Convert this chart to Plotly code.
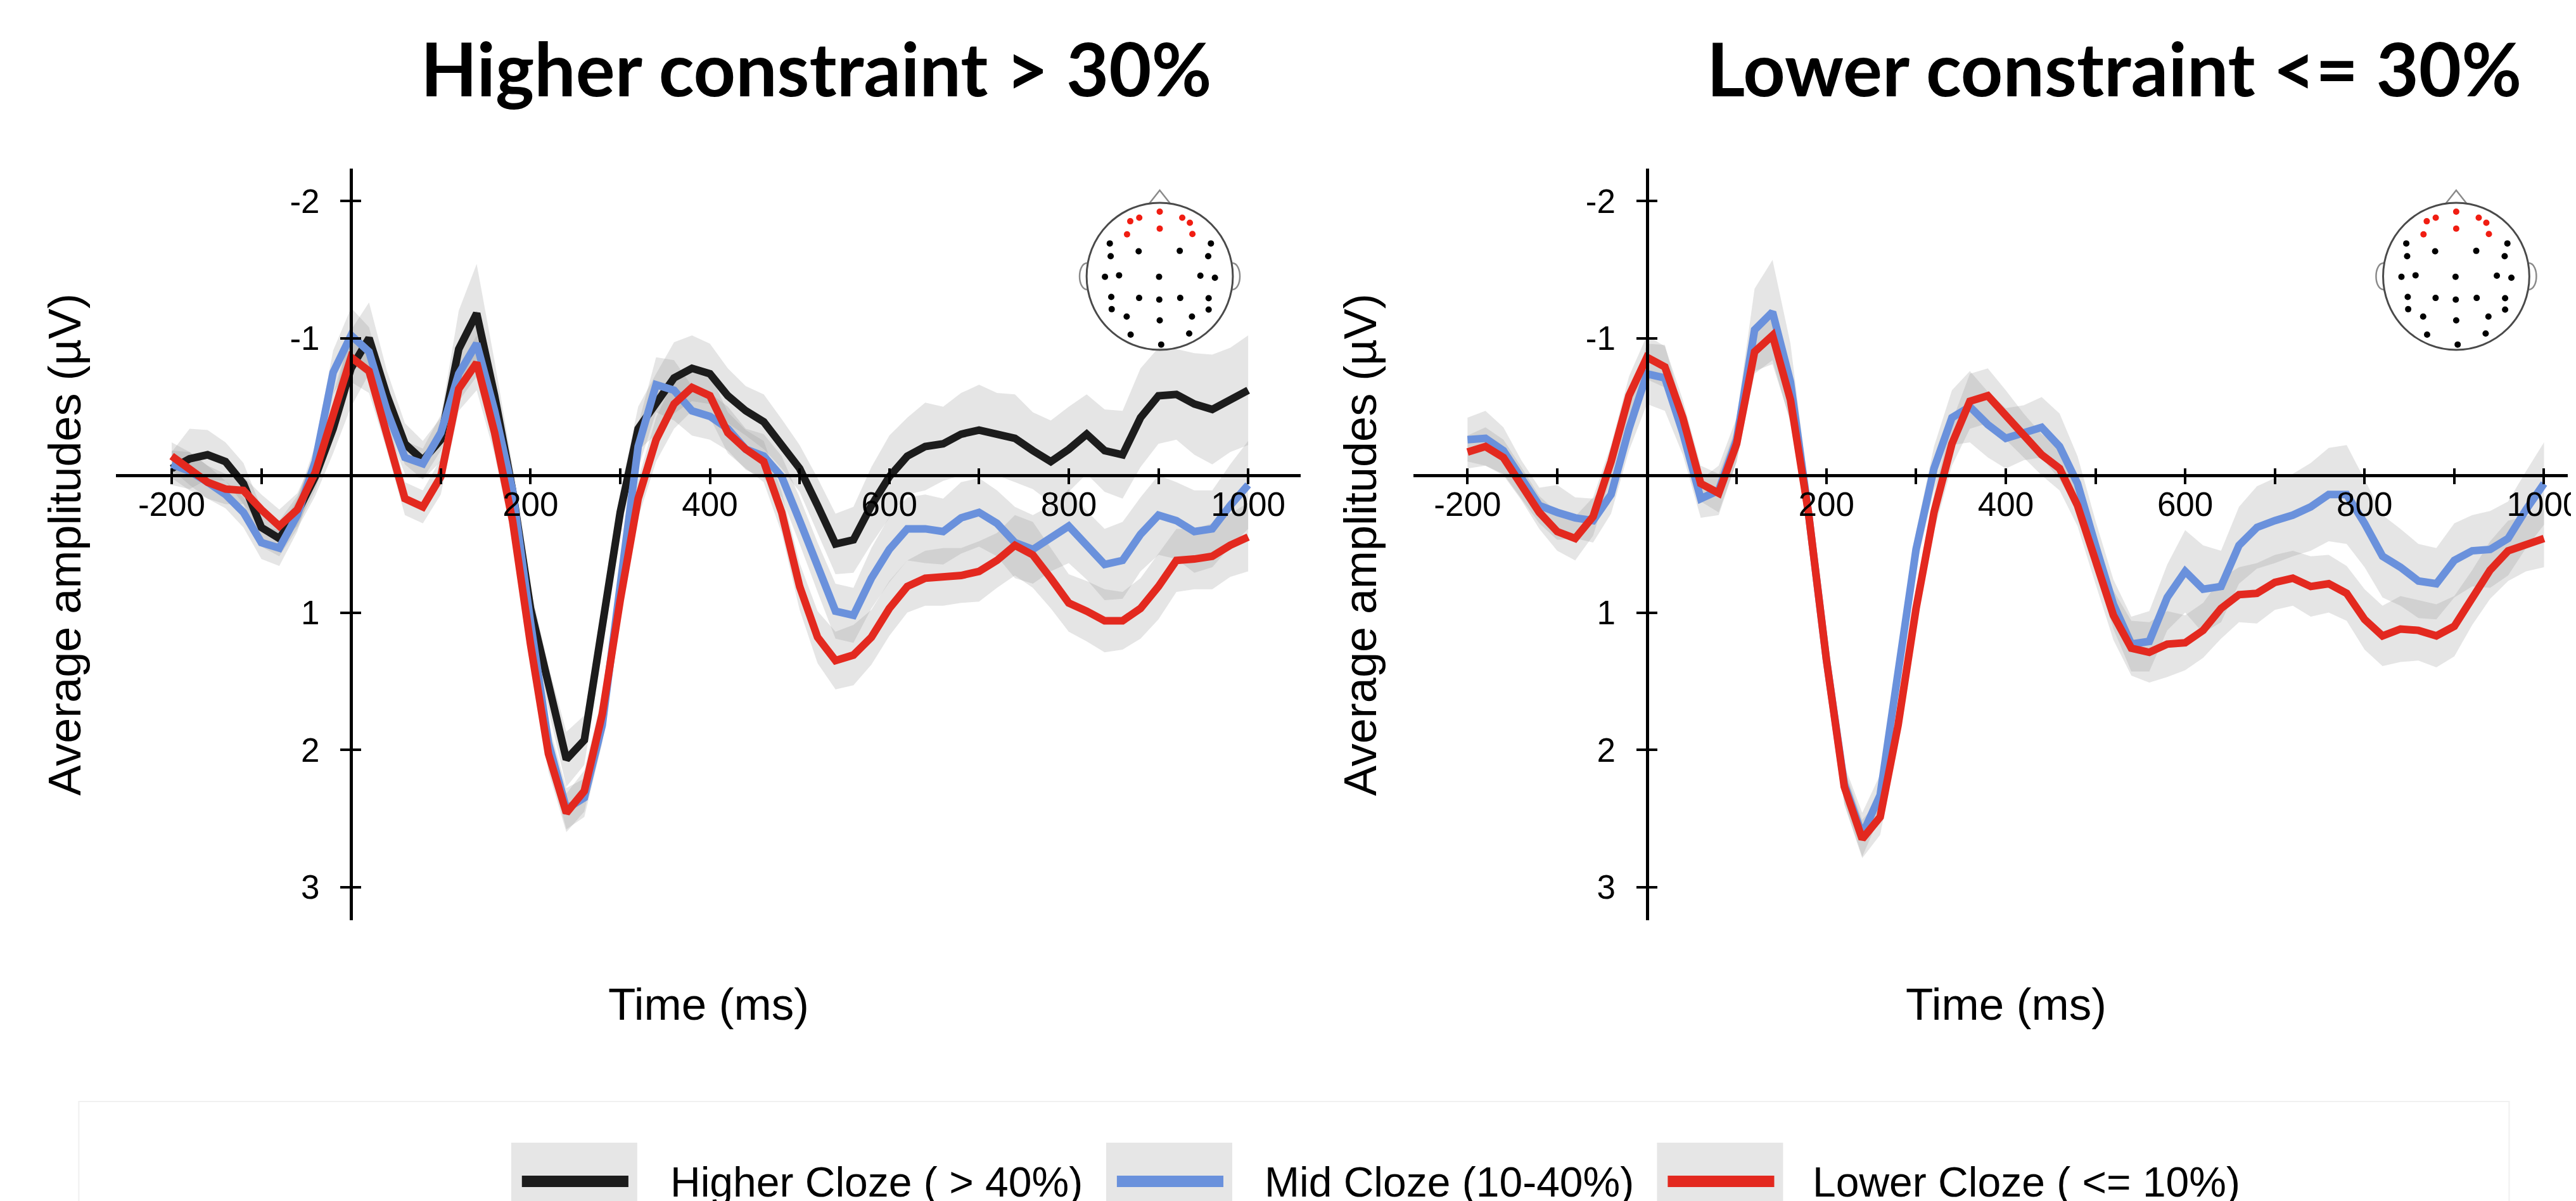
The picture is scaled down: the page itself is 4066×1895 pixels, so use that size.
import plotly.graph_objects as go

# ---------------- data ----------------
TIME_MS = list(range(-200, 1001, 20))

SERIES_NAMES = ["Higher Cloze ( > 40%)", "Mid Cloze (10-40%)", "Lower Cloze ( <= 10%)"]
SERIES_COLORS = ["#1c1c1c", "#6a91dc", "#e3291f"]

PANEL_TITLES = ["Higher constraint > 30%", "Lower constraint <= 30%"]

# Higher-constraint panel
HC_HIGHER = [-0.05, -0.12, -0.15, -0.10, 0.06, 0.38, 0.46, 0.27, 0.01, -0.34,
             -0.78, -1.00, -0.58, -0.23, -0.11, -0.26, -0.92, -1.18, -0.58, 0.11,
             0.97, 1.55, 2.07, 1.93, 1.13, 0.27, -0.34, -0.52, -0.71, -0.78,
             -0.74, -0.58, -0.47, -0.39, -0.23, -0.05, 0.22, 0.50, 0.47, 0.22,
             0.01, -0.14, -0.21, -0.23, -0.30, -0.33, -0.30, -0.27, -0.18, -0.10,
             -0.19, -0.30, -0.18, -0.15, -0.42, -0.58, -0.59, -0.52, -0.48, -0.55,
             -0.62]
HC_MID = [-0.08, -0.03, 0.05, 0.14, 0.27, 0.49, 0.53, 0.29, -0.10, -0.75,
          -1.02, -0.90, -0.47, -0.13, -0.085, -0.31, -0.74, -0.96, -0.47, 0.11,
          1.07, 1.95, 2.43, 2.35, 1.82, 0.75, -0.21, -0.66, -0.62, -0.47,
          -0.43, -0.34, -0.19, -0.14, 0.01, 0.33, 0.67, 0.99, 1.02, 0.75,
          0.54, 0.39, 0.39, 0.41, 0.31, 0.27, 0.35, 0.49, 0.54, 0.46,
          0.37, 0.51, 0.65, 0.62, 0.43, 0.29, 0.33, 0.41, 0.39, 0.22,
          0.07]
HC_LOWER = [-0.14, -0.05, 0.05, 0.10, 0.11, 0.25, 0.37, 0.25, -0.02, -0.44,
            -0.86, -0.76, -0.31, 0.17, 0.23, 0.01, -0.63, -0.82, -0.31, 0.33,
            1.23, 2.03, 2.46, 2.30, 1.74, 0.91, 0.17, -0.26, -0.52, -0.64,
            -0.58, -0.31, -0.19, -0.10, 0.27, 0.81, 1.18, 1.35, 1.31, 1.18,
            0.97, 0.81, 0.75, 0.74, 0.73, 0.70, 0.62, 0.51, 0.58, 0.75,
            0.93, 0.99, 1.06, 1.06, 0.97, 0.81, 0.62, 0.61, 0.59, 0.51,
            0.45]
HC_HIGHER_SE = [0.12, 0.22, 0.18, 0.14, 0.15, 0.14, 0.13, 0.12, 0.14, 0.18,
                0.28, 0.26, 0.18, 0.15, 0.14, 0.16, 0.28, 0.36, 0.25, 0.18,
                0.15, 0.16, 0.20, 0.18, 0.15, 0.14, 0.16, 0.22, 0.26, 0.24,
                0.22, 0.20, 0.18, 0.20, 0.18, 0.17, 0.20, 0.22, 0.24, 0.28,
                0.30, 0.28, 0.32, 0.27, 0.30, 0.33, 0.30, 0.32, 0.28, 0.30,
                0.31, 0.29, 0.30, 0.32, 0.36, 0.35, 0.33, 0.37, 0.40, 0.38,
                0.40]
HC_MID_SE = [0.10, 0.14, 0.12, 0.10, 0.11, 0.12, 0.13, 0.12, 0.12, 0.16,
             0.20, 0.18, 0.13, 0.12, 0.11, 0.13, 0.20, 0.24, 0.18, 0.14,
             0.13, 0.14, 0.15, 0.14, 0.13, 0.13, 0.16, 0.20, 0.22, 0.18,
             0.17, 0.16, 0.15, 0.16, 0.15, 0.17, 0.18, 0.20, 0.20, 0.22,
             0.24, 0.23, 0.25, 0.24, 0.26, 0.25, 0.24, 0.26, 0.25, 0.24,
             0.27, 0.25, 0.26, 0.28, 0.27, 0.29, 0.28, 0.30, 0.28, 0.30,
             0.32]
HC_LOWER_SE = [0.10, 0.12, 0.12, 0.11, 0.10, 0.11, 0.12, 0.12, 0.13, 0.15,
               0.18, 0.16, 0.13, 0.12, 0.12, 0.13, 0.16, 0.20, 0.16, 0.14,
               0.13, 0.13, 0.14, 0.15, 0.13, 0.12, 0.14, 0.16, 0.18, 0.17,
               0.16, 0.15, 0.14, 0.15, 0.15, 0.17, 0.19, 0.21, 0.22, 0.20,
               0.20, 0.19, 0.20, 0.21, 0.20, 0.22, 0.20, 0.22, 0.24, 0.22,
               0.21, 0.22, 0.23, 0.21, 0.22, 0.24, 0.23, 0.22, 0.24, 0.23,
               0.25]

# Lower-constraint panel (no Higher Cloze series)
LC_MID = [-0.26, -0.27, -0.18, 0.03, 0.22, 0.27, 0.31, 0.33, 0.14, -0.34,
          -0.74, -0.71, -0.31, 0.17, 0.11, -0.26, -1.06, -1.19, -0.68, 0.27,
          1.34, 2.25, 2.62, 2.33, 1.47, 0.54, -0.05, -0.42, -0.50, -0.37,
          -0.27, -0.31, -0.35, -0.21, 0.06, 0.51, 0.94, 1.23, 1.21, 0.89,
          0.70, 0.83, 0.81, 0.51, 0.38, 0.33, 0.29, 0.23, 0.14, 0.14,
          0.35, 0.59, 0.67, 0.77, 0.79, 0.62, 0.55, 0.54, 0.46, 0.25,
          0.06]
LC_LOWER = [-0.17, -0.21, -0.13, 0.06, 0.27, 0.41, 0.46, 0.30, -0.10, -0.58,
            -0.86, -0.79, -0.42, 0.06, 0.13, -0.23, -0.90, -1.02, -0.55, 0.27,
            1.34, 2.27, 2.65, 2.49, 1.82, 0.97, 0.27, -0.23, -0.54, -0.58,
            -0.44, -0.29, -0.15, -0.05, 0.22, 0.62, 1.02, 1.26, 1.29, 1.23,
            1.22, 1.13, 0.97, 0.87, 0.86, 0.78, 0.75, 0.81, 0.79, 0.86,
            1.05, 1.17, 1.12, 1.13, 1.17, 1.10, 0.89, 0.69, 0.55, 0.50,
            0.46]
LC_MID_SE = [0.16, 0.20, 0.17, 0.14, 0.13, 0.20, 0.15, 0.16, 0.14, 0.16,
             0.22, 0.24, 0.16, 0.14, 0.18, 0.16, 0.30, 0.38, 0.28, 0.18,
             0.15, 0.14, 0.16, 0.15, 0.14, 0.13, 0.16, 0.20, 0.26, 0.24,
             0.22, 0.20, 0.22, 0.24, 0.20, 0.18, 0.18, 0.20, 0.22, 0.24,
             0.30, 0.32, 0.26, 0.28, 0.30, 0.31, 0.30, 0.32, 0.34, 0.36,
             0.32, 0.30, 0.28, 0.27, 0.26, 0.27, 0.26, 0.28, 0.27, 0.28,
             0.30]
LC_LOWER_SE = [0.12, 0.14, 0.13, 0.12, 0.12, 0.14, 0.16, 0.14, 0.12, 0.14,
               0.16, 0.15, 0.13, 0.13, 0.14, 0.13, 0.16, 0.18, 0.17, 0.14,
               0.13, 0.13, 0.14, 0.13, 0.13, 0.12, 0.14, 0.16, 0.20, 0.20,
               0.18, 0.16, 0.15, 0.16, 0.15, 0.17, 0.18, 0.20, 0.22, 0.24,
               0.20, 0.20, 0.22, 0.20, 0.22, 0.20, 0.20, 0.22, 0.21, 0.20,
               0.22, 0.22, 0.24, 0.22, 0.23, 0.22, 0.20, 0.21, 0.22, 0.20,
               0.21]

X_TICK_VALUES = list(range(-200, 1001, 100))
X_TICK_LABELS = ["-200", "", "", "", "200", "", "400", "", "600", "", "800", "", "1000"]
Y_TICK_VALUES = [-2, -1, 1, 2, 3]
Y_TICK_LABELS = ["-2", "-1", "1", "2", "3"]

# electrode montage (unit head radius); ROI electrodes in red
ROI_X = [0.0, -0.280, -0.403, -0.447, 0.0, 0.308, 0.412, 0.447]
ROI_Y = [0.879, 0.798, 0.749, 0.571, 0.648, 0.798, 0.729, 0.576]
OTHER_X = [-0.683, -0.288, 0.274, 0.700, -0.671, 0.663, -0.749, -0.556, -0.009, 0.556,
           0.755, -0.663, -0.282, -0.006, 0.280, 0.669, -0.657, 0.669, -0.452, 0.0,
           0.441, -0.398, 0.403, 0.020]
OTHER_Y = [0.447, 0.340, 0.346, 0.447, 0.274, 0.274, -0.006, 0.014, -0.006, 0.009,
           -0.020, -0.280, -0.294, -0.317, -0.294, -0.297, -0.447, -0.452, -0.548, -0.599,
           -0.548, -0.793, -0.778, -0.928]

# ---------------- layout geometry (pixels of the 4066x1895 page) ----------------
W, H = 4066, 1895
PX_PER_MS = 1.4233
PX_PER_UV = 216.5
Y_TOP_PX, Y_BOT_PX, Y_ZERO_PX = 258, 1444, 742


def fx(p):
    return p / W


def fy(p):
    return 1 - p / H


AXIS_FONT = "Liberation Sans, Arial, sans-serif"
BAND_FILL = "rgba(150,150,150,0.25)"

panels = [
    dict(series=[(HC_HIGHER, HC_HIGHER_SE, 0), (HC_MID, HC_MID_SE, 1), (HC_LOWER, HC_LOWER_SE, 2)],
         left=176, right=2056, zero=549, full_right=2056, head=1832),
    dict(series=[(LC_MID, LC_MID_SE, 1), (LC_LOWER, LC_LOWER_SE, 2)],
         left=2235, right=4066, zero=2605, full_right=4115, head=3889),
]

fig = go.Figure()
layout_axes = {}
shapes = []
annotations = []

y_range = [(Y_BOT_PX - Y_ZERO_PX) / PX_PER_UV, -(Y_ZERO_PX - Y_TOP_PX) / PX_PER_UV]
y_domain = [fy(Y_BOT_PX), fy(Y_TOP_PX)]

for i, p in enumerate(panels):
    xa = "x" if i == 0 else "x2"
    ya = "y" if i == 0 else "y2"
    xo, yo = ("x3", "y3") if i == 0 else ("x4", "y4")
    xh, yh = ("x5", "y5") if i == 0 else ("x6", "y6")
    x_range = [(p["left"] - p["zero"]) / PX_PER_MS, (p["right"] - p["zero"]) / PX_PER_MS]
    x_domain = [fx(p["left"]), fx(p["right"])]

    # ribbons first
    for vals, se, k in p["series"]:
        upper = [v + s for v, s in zip(vals, se)]
        lower = [v - s for v, s in zip(vals, se)]
        fig.add_trace(go.Scatter(
            x=TIME_MS + TIME_MS[::-1], y=upper + lower[::-1],
            fill="toself", fillcolor=BAND_FILL, line=dict(width=0),
            mode="lines", hoverinfo="skip", showlegend=False,
            xaxis=xa, yaxis=ya))
    for vals, se, k in p["series"]:
        fig.add_trace(go.Scatter(
            x=TIME_MS, y=vals, mode="lines", name=SERIES_NAMES[k],
            line=dict(color=SERIES_COLORS[k], width=12),
            showlegend=False, xaxis=xa, yaxis=ya))
    # dummy trace holding the overlay axes (upper/right halves of crossing ticks)
    fig.add_trace(go.Scatter(x=[None], y=[None], xaxis=xo, yaxis=yo,
                             showlegend=False, hoverinfo="skip"))

    x_pos = fy(Y_ZERO_PX)
    y_pos = fx(p["zero"])
    common_x = dict(domain=x_domain, range=x_range, anchor="free", position=x_pos,
                    tickvals=X_TICK_VALUES, ticktext=X_TICK_LABELS,
                    tickwidth=4, ticklen=11, tickcolor="black",
                    showgrid=False, zeroline=False,
                    tickfont=dict(family=AXIS_FONT, size=53, color="black"),
                    ticklabeloverflow="allow")
    common_y = dict(domain=y_domain, range=y_range, anchor="free", position=y_pos,
                    tickvals=Y_TICK_VALUES, ticktext=Y_TICK_LABELS,
                    tickwidth=4, ticklen=15, tickcolor="black",
                    showgrid=False, zeroline=False,
                    tickfont=dict(family=AXIS_FONT, size=53, color="black"))
    layout_axes["xaxis" if i == 0 else "xaxis2"] = dict(
        common_x, showline=True, linecolor="black", linewidth=5, ticks="outside",
        ticklabelstandoff=-14)
    layout_axes["yaxis" if i == 0 else "yaxis2"] = dict(
        common_y, showline=True, linecolor="black", linewidth=5, ticks="outside",
        ticklabelstandoff=22)
    layout_axes["xaxis3" if i == 0 else "xaxis4"] = dict(
        common_x, overlaying=xa, showline=False, ticks="inside", showticklabels=False)
    layout_axes["yaxis3" if i == 0 else "yaxis4"] = dict(
        common_y, overlaying=ya, showline=False, ticks="inside", showticklabels=False)

    # head inset
    hc_x, hc_y, half = p["head"], 428, 140
    head_r = 116
    lim = half / head_r
    layout_axes["xaxis5" if i == 0 else "xaxis6"] = dict(
        domain=[fx(hc_x - half), fx(hc_x + half)], range=[-lim, lim], visible=False,
        anchor=yh)
    layout_axes["yaxis5" if i == 0 else "yaxis6"] = dict(
        domain=[fy(hc_y + half), fy(hc_y - half)], range=[-lim, lim], visible=False,
        anchor=xh)
    shapes.append(dict(type="path", xref=xh, yref=yh, layer="below",
                       path="M -0.144 0.99 L 0 1.17 L 0.144 0.99",
                       line=dict(color="#8a8a8a", width=2.5)))
    shapes.append(dict(type="path", xref=xh, yref=yh, layer="below",
                       path="M -0.995 0.18 C -1.13 0.17, -1.13 -0.17, -0.995 -0.18",
                       line=dict(color="#8a8a8a", width=2.5)))
    shapes.append(dict(type="path", xref=xh, yref=yh, layer="below",
                       path="M 0.995 0.18 C 1.13 0.17, 1.13 -0.17, 0.995 -0.18",
                       line=dict(color="#8a8a8a", width=2.5)))
    shapes.append(dict(type="circle", xref=xh, yref=yh, x0=-1, x1=1, y0=-1, y1=1,
                       layer="above", line=dict(color="#4a4a4a", width=3),
                       fillcolor="rgba(0,0,0,0)"))
    fig.add_trace(go.Scatter(x=OTHER_X, y=OTHER_Y, mode="markers",
                             marker=dict(color="black", size=10),
                             xaxis=xh, yaxis=yh, showlegend=False, hoverinfo="skip"))
    fig.add_trace(go.Scatter(x=ROI_X, y=ROI_Y, mode="markers",
                             marker=dict(color="#f01d12", size=10),
                             xaxis=xh, yaxis=yh, showlegend=False, hoverinfo="skip"))

    # axis titles
    annotations.append(dict(text="Average amplitudes (µV)", textangle=-90,
                            x=fx(p["zero"] - 455), y=fy((Y_TOP_PX + Y_BOT_PX) / 2),
                            xref="paper", yref="paper", showarrow=False,
                            xanchor="center", yanchor="middle",
                            font=dict(family=AXIS_FONT, size=72, color="black")))
    annotations.append(dict(text="Time (ms)",
                            x=fx((p["left"] + p["full_right"]) / 2), y=fy(1576),
                            xref="paper", yref="paper", showarrow=False,
                            xanchor="center", yanchor="middle",
                            font=dict(family=AXIS_FONT, size=71, color="black")))

for t, cx in zip(PANEL_TITLES, [1287, 3346]):
    annotations.append(dict(text=t, x=fx(cx), y=fy(100), xref="paper", yref="paper",
                            showarrow=False, xanchor="center", yanchor="middle",
                            font=dict(family="Lato, sans-serif", size=116, color="black",
                                      weight="bold")))

# ---------------- legend (ggplot-style keys) ----------------
shapes.append(dict(type="rect", xref="paper", yref="paper",
                   x0=fx(117), x1=fx(3973), y0=fy(1730), y1=fy(1960),
                   line=dict(color="#f0f0f0", width=2), fillcolor="rgba(0,0,0,0)", layer="below"))
legend_keys = [(803, 1053), (1747, 1996), (2621, 2866)]
for k, (kx, tx) in enumerate(legend_keys):
    shapes.append(dict(type="rect", xref="paper", yref="paper",
                       x0=fx(kx), x1=fx(kx + 200), y0=fy(1795), y1=fy(1930),
                       line=dict(width=0), fillcolor="#e6e6e6", layer="below"))
    shapes.append(dict(type="line", xref="paper", yref="paper",
                       x0=fx(kx + 17), x1=fx(kx + 186), y0=fy(1856), y1=fy(1856),
                       line=dict(color=SERIES_COLORS[k], width=18)))
    annotations.append(dict(text=SERIES_NAMES[k], x=fx(tx), y=fy(1857),
                            xref="paper", yref="paper", showarrow=False,
                            xanchor="left", yanchor="middle",
                            font=dict(family=AXIS_FONT, size=66, color="black")))

fig.update_layout(
    width=W, height=H,
    margin=dict(l=0, r=0, t=0, b=0, pad=0),
    paper_bgcolor="white", plot_bgcolor="rgba(0,0,0,0)",
    showlegend=False,
    shapes=shapes, annotations=annotations,
    **layout_axes,
)

fig.write_html("out.html")
